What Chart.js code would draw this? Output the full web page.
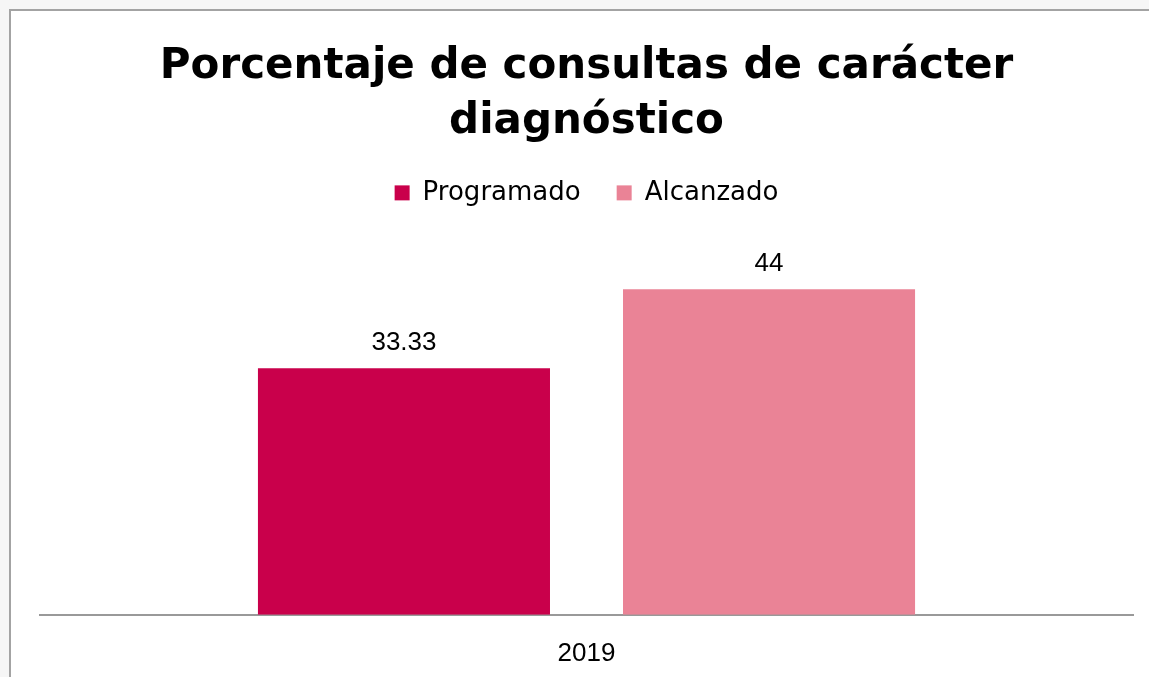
<!DOCTYPE html>
<html>
<head>
<meta charset="utf-8">
<script src="https://cdn.jsdelivr.net/npm/chart.js@4"></script>
<style>
	html, body { margin: 0; padding: 0; background: #f6f6f6; overflow: hidden; }
	#frame {
		position: absolute; left: 9px; top: 9px; width: 1200px; height: 700px;
		border: 2px solid #a3a3a3; background: #ffffff; box-sizing: border-box;
	}
	#wrap { position: absolute; left: 0; top: 0; width: 1149px; height: 677px; }
</style>
</head>
<body>
<div id="frame"></div>
<div id="wrap"><canvas id="chart"></canvas></div>
<script>
const categories = ["2019"];
const programado = [33.33];
const alcanzado = [44];
const titleLines = ["Porcentaje de consultas de carácter", "diagnóstico"];

const labelFont = "'Liberation Sans', sans-serif";

// draws the value above every bar
const barValues = {
	id: "barValues",
	afterDatasetsDraw(chart) {
		const ctx = chart.ctx;
		ctx.save();
		ctx.fillStyle = "#000000";
		ctx.font = "26px " + labelFont;
		ctx.textAlign = "center";
		ctx.textBaseline = "middle";
		chart.data.datasets.forEach((ds, i) => {
			chart.getDatasetMeta(i).data.forEach((bar, j) => {
				ctx.fillText(String(ds.data[j]), bar.x, bar.y - 25);
			});
		});
		ctx.restore();
	}
};

// a bit more room under the legend
const legendGap = {
	id: "legendGap",
	beforeInit(chart) {
		const fit = chart.legend.fit;
		chart.legend.fit = function () {
			fit.call(this);
			this.height += 29;
		};
	}
};

new Chart(document.getElementById("chart"), {
	type: "bar",
	data: {
		labels: categories,
		datasets: [{
			label: "Programado",
			data: programado,
			backgroundColor: "#c9004b"
		}, {
			label: "Alcanzado",
			data: alcanzado,
			backgroundColor: "#ea8396"
		}]
	},
	options: {
		responsive: true,
		maintainAspectRatio: false,
		animation: false,
		categoryPercentage: 0.668,
		barPercentage: 0.8,
		layout: { padding: { left: 40, right: 16, top: 29, bottom: -7 } },
		plugins: {
			title: {
				display: true,
				text: titleLines,
				color: "#000000",
				font: { family: "'DejaVu Sans', sans-serif", size: 42, weight: "bold", lineHeight: 1.32 },
				padding: { top: 10, bottom: -6 }
			},
			legend: {
				position: "top",
				labels: {
					color: "#000000",
					font: { family: "'DejaVu Sans', sans-serif", size: 26 },
					boxWidth: 15,
					boxHeight: 15,
					padding: 36
				}
			},
			tooltip: { enabled: false }
		},
		scales: {
			x: {
				grid: { display: false },
				border: { display: true, color: "#999999", width: 2 },
				ticks: { color: "#000000", font: { family: labelFont, size: 26 }, padding: 15 }
			},
			y: {
				display: false,
				min: 0,
				max: 50
			}
		}
	},
	plugins: [barValues, legendGap]
});
</script>
</body>
</html>
